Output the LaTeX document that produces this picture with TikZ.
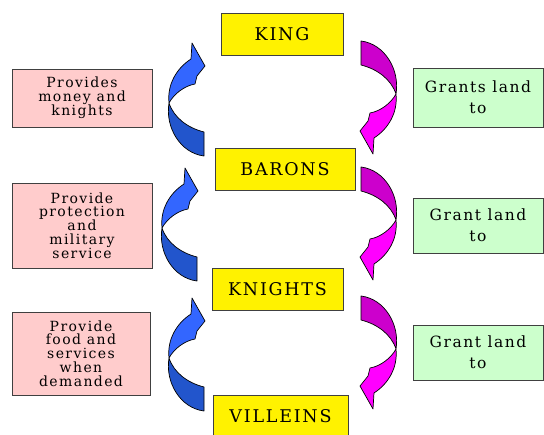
\documentclass[tikz,border=0pt]{standalone}
\usepackage{fontspec}
\setmainfont{DejaVu Serif}[LetterSpace=10]
\definecolor{blueL}{RGB}{51,102,255}
\definecolor{blueD}{RGB}{34,85,204}
\definecolor{magD}{RGB}{204,0,204}
\definecolor{magL}{RGB}{255,0,255}
\definecolor{pinkbox}{RGB}{255,204,204}
\definecolor{greenbox}{RGB}{204,255,204}
\tikzset{
  rank/.style={draw=black!75, line width=0.9pt, fill=yellow, inner sep=0pt, font=\fontsize{17.5}{17.5}\selectfont},
  dutybox/.style={draw=black!75, line width=0.9pt, fill=pinkbox, inner sep=0pt, align=center, font=\fontsize{14}{13.8}\selectfont},
  grantbox/.style={draw=black!75, line width=0.9pt, fill=greenbox, inner sep=0pt, align=center, font=\fontsize{15.5}{21}\selectfont},
  band/.style={draw=black, line width=0.7pt, line join=round}
}
\newcommand\twistarrow[2]{%
  \fill[#1, band] (169,103) .. controls (167,84) and (177,68) .. (191,59)
     -- (192,43) -- (205,66) -- (197,76) -- (195,84)
     .. controls (184,86) and (174,94) .. (169,103) -- cycle;
  \fill[#2, band] (169,103) .. controls (165,127) and (180,153) .. (204,156)
     -- (204,132) .. controls (188,128) and (174,118) .. (169,103) -- cycle;
}
\begin{document}
\begin{tikzpicture}[x=1pt,y=-1pt]
\useasboundingbox (0,0) rectangle (544,435);
% ranks
\node[rank, minimum width=122pt, minimum height=42pt] (king) at (282,34) {KING};
\node[rank, minimum width=140pt, minimum height=42pt] (barons) at (285,169) {BARONS};
\node[rank, minimum width=131pt, minimum height=42pt] (knights) at (277.5,289) {KNIGHTS};
\node[rank, minimum width=135pt, minimum height=42pt, anchor=north] (villeins) at (280.5,395) {VILLEINS};
% duties
\node[dutybox, minimum width=140pt, minimum height=58pt] (d1) at (82,98) {Provides\\money and\\knights};
\node[dutybox, minimum width=140pt, minimum height=85pt] (d2) at (82,225.5) {Provide\\protection\\and\\military\\service};
\node[dutybox, minimum width=138pt, minimum height=83pt] (d3) at (81,353.5) {Provide\\food and\\services\\when\\demanded};
% grants
\node[grantbox, minimum width=130pt, minimum height=59pt] (g1) at (478,97.5) {Grants land\\to};
\node[grantbox, minimum width=130pt, minimum height=55pt] (g2) at (478,225.5) {Grant land\\to};
\node[grantbox, minimum width=130pt, minimum height=55pt] (g3) at (478,352.5) {Grant land\\to};
% blue curved arrows (upward, left side)
\twistarrow{blueL}{blueD}
\begin{scope}[shift={(-7,125)}]\twistarrow{blueL}{blueD}\end{scope}
\begin{scope}[shift={(0,255)}]\twistarrow{blueL}{blueD}\end{scope}
% magenta curved arrows (downward, right side)
\begin{scope}[shift={(565,197)}, rotate=180]\twistarrow{magL}{magD}\end{scope}
\begin{scope}[shift={(565,323)}, rotate=180]\twistarrow{magL}{magD}\end{scope}
\begin{scope}[shift={(565,452)}, rotate=180]\twistarrow{magL}{magD}\end{scope}
\end{tikzpicture}
\end{document}
